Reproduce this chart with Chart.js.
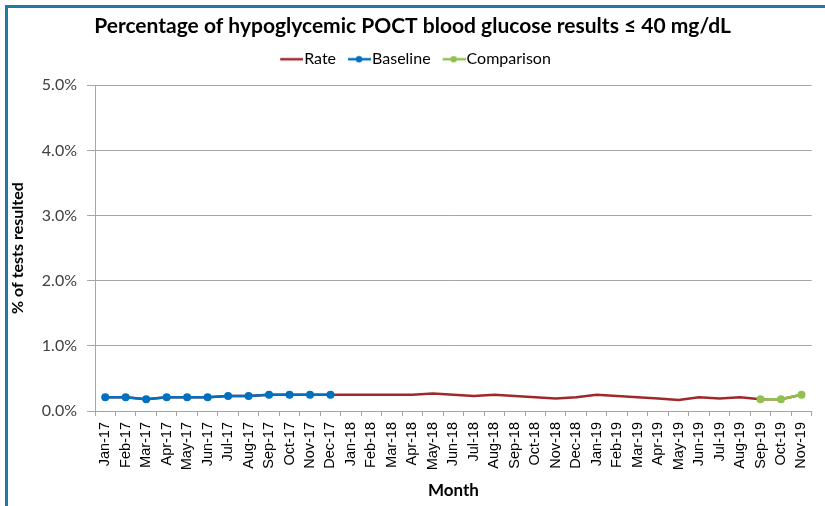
<!DOCTYPE html>
<html>
<head>
<meta charset="utf-8">
<script src="https://cdn.jsdelivr.net/npm/chart.js@4.4.1/dist/chart.umd.min.js"></script>
<style>
  body { margin: 0; background: #fff; }
  #wrap { position: relative; width: 825px; height: 506px; }
  #frame {
    position: absolute; left: 5px; top: 5px; right: 0; bottom: 0;
    border-left: 3px solid #1f78a6; border-top: 3px solid #1f78a6;
    pointer-events: none;
  }
</style>
</head>
<body>
<div id="wrap">
  <canvas id="chart" width="825" height="506"></canvas>
  <div id="frame"></div>
</div>
<script>
// --- data (values in %) ---
const months = [
  "Jan-17", "Feb-17", "Mar-17", "Apr-17", "May-17", "Jun-17", "Jul-17", "Aug-17", "Sep-17", "Oct-17", "Nov-17", "Dec-17",
  "Jan-18", "Feb-18", "Mar-18", "Apr-18", "May-18", "Jun-18", "Jul-18", "Aug-18", "Sep-18", "Oct-18", "Nov-18", "Dec-18",
  "Jan-19", "Feb-19", "Mar-19", "Apr-19", "May-19", "Jun-19", "Jul-19", "Aug-19", "Sep-19", "Oct-19", "Nov-19"
];

const rate = [
  0.21, 0.21, 0.18, 0.21, 0.21, 0.21, 0.23, 0.23, 0.25, 0.25, 0.25, 0.25,
  0.25, 0.25, 0.25, 0.25, 0.27, 0.25, 0.23, 0.25, 0.23, 0.21, 0.19, 0.21,
  0.25, 0.23, 0.21, 0.19, 0.17, 0.21, 0.19, 0.21, 0.18, 0.18, 0.25
];

const baseline = [
  0.21, 0.21, 0.18, 0.21, 0.21, 0.21, 0.23, 0.23, 0.25, 0.25, 0.25, 0.25,
  null, null, null, null, null, null, null, null, null, null, null, null,
  null, null, null, null, null, null, null, null, null, null, null
];

const comparison = [
  null, null, null, null, null, null, null, null, null, null, null, null,
  null, null, null, null, null, null, null, null, null, null, null, null,
  null, null, null, null, null, null, null, null, 0.18, 0.18, 0.25
];

const yTicks = [0, 1, 2, 3, 4, 5];

// --- styling ---
const RED = "#a0282b";
const BLUE = "#0070c0";
const GREEN = "#92c050";
const GRID = "#a6a6a6";

// legend icon: short line, optional dot, blank space on the left for item spacing
function legendIcon(color, dot) {
  const c = document.createElement("canvas");
  c.width = 36; c.height = 10;
  const g = c.getContext("2d");
  g.strokeStyle = color;
  g.lineWidth = 2.5;
  g.beginPath();
  g.moveTo(13, 5);
  g.lineTo(36, 5);
  g.stroke();
  if (dot) {
    g.fillStyle = color;
    g.beginPath();
    g.arc(24, 5, 3.2, 0, Math.PI * 2);
    g.fill();
  }
  return c;
}
const icons = [legendIcon(RED, false), legendIcon(BLUE, true), legendIcon(GREEN, true)];

// extra room under the legend
const legendMargin = {
  id: "legendMargin",
  beforeInit(chart) {
    const fit = chart.legend.fit;
    chart.legend.fit = function () {
      fit.bind(chart.legend)();
      this.height += 8;
    };
  }
};

const ctx = document.getElementById("chart").getContext("2d");

new Chart(ctx, {
  type: "line",
  data: {
    labels: months,
    datasets: [
      {
        label: "Rate",
        data: rate,
        borderColor: RED,
        backgroundColor: RED,
        borderWidth: 2.5,
        pointRadius: 0,
        tension: 0,
        order: 3
      },
      {
        label: "Baseline",
        data: baseline,
        borderColor: BLUE,
        backgroundColor: BLUE,
        borderWidth: 2.5,
        pointRadius: 4,
        pointBorderWidth: 0,
        tension: 0,
        order: 2
      },
      {
        label: "Comparison",
        data: comparison,
        borderColor: GREEN,
        backgroundColor: GREEN,
        borderWidth: 2.5,
        pointRadius: 4,
        pointBorderWidth: 0,
        tension: 0,
        order: 1
      }
    ]
  },
  options: {
    responsive: false,
    animation: false,
    devicePixelRatio: 1,
    layout: { padding: { top: 4, left: 8, right: 8, bottom: 5 } },
    scales: {
      x: {
        offset: true,
        grid: { offset: true, drawOnChartArea: false, color: GRID, tickLength: 5 },
        border: { color: GRID },
        ticks: {
          minRotation: 90, maxRotation: 90, autoSkip: false, padding: 6,
          color: "#000", font: { family: "Liberation Sans", size: 14.5 }
        },
        title: {
          display: true, text: "Month", color: "#000", padding: 0,
          font: { family: "Lato", size: 17, weight: "bold" }
        },
        afterFit(scale) { scale.height = 90; }
      },
      y: {
        min: 0, max: 5,
        afterBuildTicks(scale) { scale.ticks = yTicks.map(v => ({ value: v })); },
        grid: { color: GRID, tickLength: 8 },
        border: { color: GRID },
        ticks: {
          padding: 10, color: "#404040",
          font: { family: "Lato", size: 16 },
          callback: v => v.toFixed(1) + "%"
        },
        title: {
          display: true, text: "% of tests resulted", color: "#000", padding: 0,
          font: { family: "Lato", size: 16, weight: "bold" }
        },
        afterFit(scale) { scale.width = 87; }
      }
    },
    plugins: {
      title: {
        display: true,
        text: "Percentage of hypoglycemic POCT blood glucose results \u2264 40 mg/dL",
        color: "#000",
        font: { family: "Lato", size: 21, weight: "bold" },
        padding: { top: 10, bottom: 6 }
      },
      legend: {
        labels: {
          usePointStyle: true,
          pointStyleWidth: 22,
          padding: 6,
          color: "#000",
          font: { family: "Lato", size: 16 },
          sort: (a, b) => a.datasetIndex - b.datasetIndex,
          generateLabels(chart) {
            const items = Chart.defaults.plugins.legend.labels.generateLabels(chart);
            items.forEach(it => { it.pointStyle = icons[it.datasetIndex]; });
            return items;
          }
        }
      },
      tooltip: { enabled: false }
    }
  },
  plugins: [legendMargin]
});
</script>
</body>
</html>
